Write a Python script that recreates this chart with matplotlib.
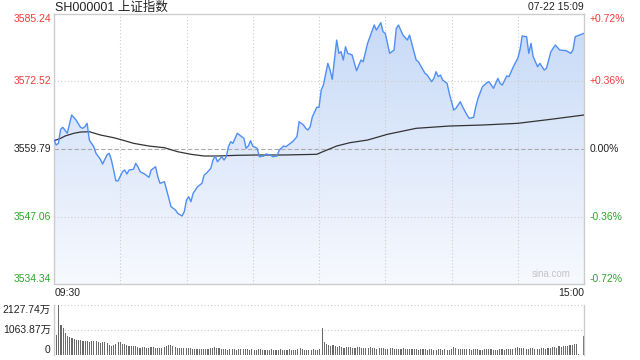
import numpy as np
import matplotlib.pyplot as plt
from matplotlib.patches import Polygon
from matplotlib.colors import LinearSegmentedColormap
from matplotlib.transforms import blended_transform_factory

plt.rcParams['font.family'] = ['Liberation Sans', 'Noto Sans CJK SC', 'DejaVu Sans']

# ---- data ----
title = 'SH000001 上证指数'
stamp = '07-22 15:09'
prev_close = 3559.79
price_ticks = [3534.34, 3547.06, 3559.79, 3572.52, 3585.24]
pct_labels = ['-0.72%', '-0.36%', '0.00%', '+0.36%', '+0.72%']
time_labels = ['09:30', '15:00']
vol_ticks = [0, 1063.87, 2127.74]
vol_labels = ['0', '1063.87万', '2127.74万']

# minute index (0 = 09:30, 240 = 15:00) and index value
price_min = [0, 1, 2, 3, 4, 6, 7, 8, 10, 12, 13, 14, 15, 16, 18, 19, 21, 22, 24, 25,
             26, 27, 28, 29, 31, 32, 33, 34, 36, 37, 38, 39, 41, 43, 44, 46, 47, 48, 50, 52,
             53, 55, 56, 58, 59, 60, 61, 62, 63, 65, 67, 68, 69, 71, 72, 73, 74, 76, 77, 78,
             79, 80, 81, 83, 85, 86, 87, 88, 89, 90, 92, 93, 95, 96, 98, 99, 101, 102, 104, 105,
             107, 108, 110, 111, 113, 114, 115, 116, 117, 119, 120, 121, 122, 124, 125, 126, 128, 129, 130, 131,
             132, 133, 135, 137, 139, 140, 142, 145, 146, 148, 149, 150, 152, 154, 155, 156, 158, 160, 161, 162,
             164, 165, 168, 169, 171, 172, 173, 174, 175, 176, 178, 179, 181, 182, 184, 185, 187, 188, 190, 191,
             192, 194, 196, 197, 199, 201, 202, 203, 205, 206, 208, 210, 211, 212, 214, 215, 216, 217, 219, 220,
             222, 223, 225, 227, 229, 232, 234, 235, 236, 238, 240]
price_val = [3561.48, 3560.54, 3560.86, 3563.50, 3563.88, 3562.75, 3564.50, 3566.20, 3565.25, 3563.88,
             3563.69, 3563.99, 3564.63, 3561.48, 3560.22, 3558.98, 3557.85, 3556.96, 3558.66, 3558.98,
             3557.71, 3555.83, 3553.81, 3553.76, 3555.51, 3555.83, 3555.08, 3555.83, 3555.96, 3557.09,
             3556.45, 3555.51, 3555.08, 3554.45, 3555.83, 3556.45, 3554.57, 3553.32, 3553.62, 3550.49,
             3548.91, 3548.29, 3547.67, 3547.16, 3547.97, 3550.17, 3550.80, 3549.85, 3551.44, 3552.68,
             3553.32, 3554.89, 3555.21, 3556.15, 3557.71, 3558.47, 3557.39, 3558.34, 3557.71, 3558.34,
             3560.22, 3561.16, 3560.86, 3562.75, 3562.11, 3561.80, 3559.92, 3560.35, 3561.35, 3560.35,
             3559.92, 3558.34, 3558.47, 3558.85, 3558.66, 3558.34, 3558.47, 3559.60, 3560.35, 3560.22,
             3560.86, 3561.16, 3562.11, 3564.93, 3564.31, 3563.69, 3563.37, 3563.99, 3565.88, 3567.65,
             3567.65, 3570.91, 3571.85, 3575.94, 3574.68, 3572.93, 3580.33, 3577.83, 3578.13, 3576.56,
             3579.07, 3577.83, 3577.51, 3574.55, 3576.56, 3576.24, 3579.71, 3583.16, 3582.22, 3583.60,
             3581.90, 3581.60, 3577.83, 3578.45, 3582.54, 3583.16, 3581.28, 3580.33, 3581.28, 3579.71,
             3576.56, 3576.24, 3574.06, 3573.74, 3572.47, 3573.11, 3574.36, 3573.42, 3573.74, 3572.79,
             3572.17, 3570.29, 3567.14, 3567.46, 3568.70, 3567.76, 3566.20, 3565.57, 3565.76, 3567.76,
             3569.34, 3571.53, 3572.29, 3572.47, 3571.23, 3573.11, 3572.17, 3571.85, 3573.55, 3573.42,
             3575.30, 3576.88, 3578.45, 3581.09, 3580.96, 3577.83, 3579.71, 3577.19, 3575.30, 3575.94,
             3574.68, 3575.00, 3578.13, 3579.39, 3578.45, 3578.32, 3577.83, 3578.45, 3580.96, 3581.28,
             3581.60]

avg_min = [0, 3, 5, 9, 12, 16, 21, 27, 31, 36, 43, 50, 56, 62, 68, 74, 83, 92, 104, 119,
           120, 128, 134, 142, 151, 164, 179, 194, 210, 225, 240]
avg_val = [3561.35, 3561.80, 3562.24, 3562.75, 3562.99, 3563.05, 3562.43, 3561.92, 3561.48, 3560.86,
           3560.35, 3560.03, 3559.28, 3558.79, 3558.47, 3558.47, 3558.60, 3558.66, 3558.66, 3558.79,
           3558.98, 3560.35, 3560.98, 3561.48, 3562.56, 3563.69, 3564.12, 3564.31, 3564.63, 3565.39,
           3566.20]

# volume per minute (万)
volume = [851, 2127.74, 1277, 1149, 936, 823, 766, 709, 681, 624,
          624, 653, 610, 610, 596, 539, 610, 582, 596, 539,
          496, 567, 539, 525, 440, 397, 411, 468, 539, 567,
          482, 454, 426, 397, 383, 397, 368, 326, 312, 340,
          326, 298, 312, 340, 326, 298, 284, 312, 298, 326,
          383, 425, 440, 397, 340, 312, 298, 312, 284, 298,
          284, 312, 270, 255, 255, 270, 241, 255, 270, 255,
          298, 312, 340, 298, 284, 270, 255, 241, 227, 241,
          255, 241, 227, 241, 255, 270, 255, 241, 227, 241,
          227, 213, 241, 255, 227, 213, 199, 227, 241, 213,
          213, 227, 241, 199, 213, 227, 241, 213, 199, 227,
          255, 284, 241, 227, 213, 199, 227, 241, 213, 227,
          241, 1149, 566, 454, 411, 397, 425, 383, 354, 368,
          340, 312, 326, 354, 340, 312, 298, 326, 340, 312,
          298, 284, 312, 326, 298, 284, 270, 298, 312, 284,
          270, 255, 284, 298, 270, 255, 241, 270, 284, 255,
          255, 241, 270, 255, 241, 227, 255, 270, 241, 227,
          241, 255, 227, 213, 241, 255, 227, 241, 213, 227,
          255, 340, 298, 270, 255, 241, 255, 270, 241, 227,
          241, 255, 241, 227, 213, 241, 255, 270, 241, 227,
          213, 227, 255, 241, 227, 255, 270, 255, 241, 284,
          340, 312, 298, 284, 270, 255, 284, 298, 270, 255,
          270, 298, 284, 270, 298, 312, 340, 326, 312, 368,
          340, 383, 397, 368, 411, 440, 454, 482, 30, 0,
          795]

red = '#f03a3a'
green = '#2aa82a'
grid_c = '#cccccc'

fig = plt.figure(figsize=(6.4, 3.6), dpi=100)
ax = fig.add_axes([54 / 640, 1 - 284 / 360, 530 / 640, 270 / 360])
axv = fig.add_axes([54 / 640, 1 - 355 / 360, 530 / 640, 50 / 360])

lo, hi = price_ticks[0], price_ticks[-1]

# gradient fill under the price line
poly = Polygon([(price_min[0], lo)] + list(zip(price_min, price_val)) + [(price_min[-1], lo)],
               closed=True, facecolor='none', edgecolor='none')
ax.add_patch(poly)
cmap = LinearSegmentedColormap.from_list('fill', ['#f7f9fe', '#c6d9f7'])
grad = np.linspace(1, 0, 256).reshape(-1, 1)
im = ax.imshow(grad, cmap=cmap, aspect='auto', origin='upper',
               extent=[0, 240, lo, hi], zorder=1)
im.set_clip_path(poly)

# grid
for t in [30, 60, 90, 120, 150, 180, 210]:
    ax.axvline(t, color=grid_c, lw=0.8, ls=(0, (1, 2)), zorder=2)
for p in price_ticks[1:-1]:
    if p == prev_close:
        ax.axhline(p, color='#aaaaaa', lw=0.8, ls=(0, (4, 2)), zorder=2)
    else:
        ax.axhline(p, color=grid_c, lw=0.8, ls=(0, (1, 2)), zorder=2)

ax.plot(price_min, price_val, color='#4f8ef5', lw=1.0, zorder=4)
ax.plot(avg_min, avg_val, color='#333333', lw=0.9, zorder=3)

ax.set_xlim(0, 240)
ax.set_ylim(lo, hi)
ax.set_xticks([])
ax.set_yticks([])
for s in ax.spines.values():
    s.set_color(grid_c)
    s.set_linewidth(1)

# price / percent labels
tr = blended_transform_factory(ax.transAxes, ax.transData)
for i, (p, lab) in enumerate(zip(price_ticks, pct_labels)):
    c = red if p > prev_close else (green if p < prev_close else '#222222')
    va = 'bottom' if i == 0 else ('top' if i == len(price_ticks) - 1 else 'center')
    ax.text(-0.006, p, f'{p:.2f}', transform=tr, ha='right', va=va, color=c, fontsize=7.5)
    ax.text(1.011, p, lab, transform=tr, ha='left', va=va, color=c, fontsize=7.5)

ax.text(0.002, -0.033, time_labels[0], transform=ax.transAxes, ha='left', va='center',
        fontsize=7.5, color='#222222')
ax.text(1.0, -0.033, time_labels[1], transform=ax.transAxes, ha='right', va='center',
        fontsize=7.5, color='#222222')
ax.text(0.975, 0.02, 'sina.com', transform=ax.transAxes, ha='right', va='bottom',
        fontsize=7, color='#c4c4c4')

fig.text(55 / 640, 1 - 8 / 360, title, ha='left', va='center', fontsize=9, color='#222222')
fig.text(584 / 640, 1 - 7 / 360, stamp, ha='right', va='center', fontsize=7.5, color='#222222')

# volume panel
for v in vol_ticks[1:]:
    axv.axhline(v, color=grid_c, lw=0.8, ls=(0, (1, 2)), zorder=1)
axv.bar(np.arange(len(volume)), volume, width=0.5, color='#6a6a6a', zorder=2)
axv.set_xlim(-1.2, 240.4)
axv.set_ylim(0, vol_ticks[-1])
axv.set_xticks([])
axv.set_yticks([])
axv.spines['top'].set_visible(False)
axv.spines['bottom'].set_visible(False)
for k in ['left', 'right']:
    axv.spines[k].set_color(grid_c)
    axv.spines[k].set_linewidth(1)
trv = blended_transform_factory(axv.transAxes, axv.transData)
for i, (v, lab) in enumerate(zip(vol_ticks, vol_labels)):
    va = 'bottom' if i == 0 else ('top' if i == len(vol_ticks) - 1 else 'center')
    axv.text(-0.006, v, lab, transform=trv, ha='right', va=va, fontsize=7.5, color='#222222')

fig.savefig('out.png', dpi=100)
